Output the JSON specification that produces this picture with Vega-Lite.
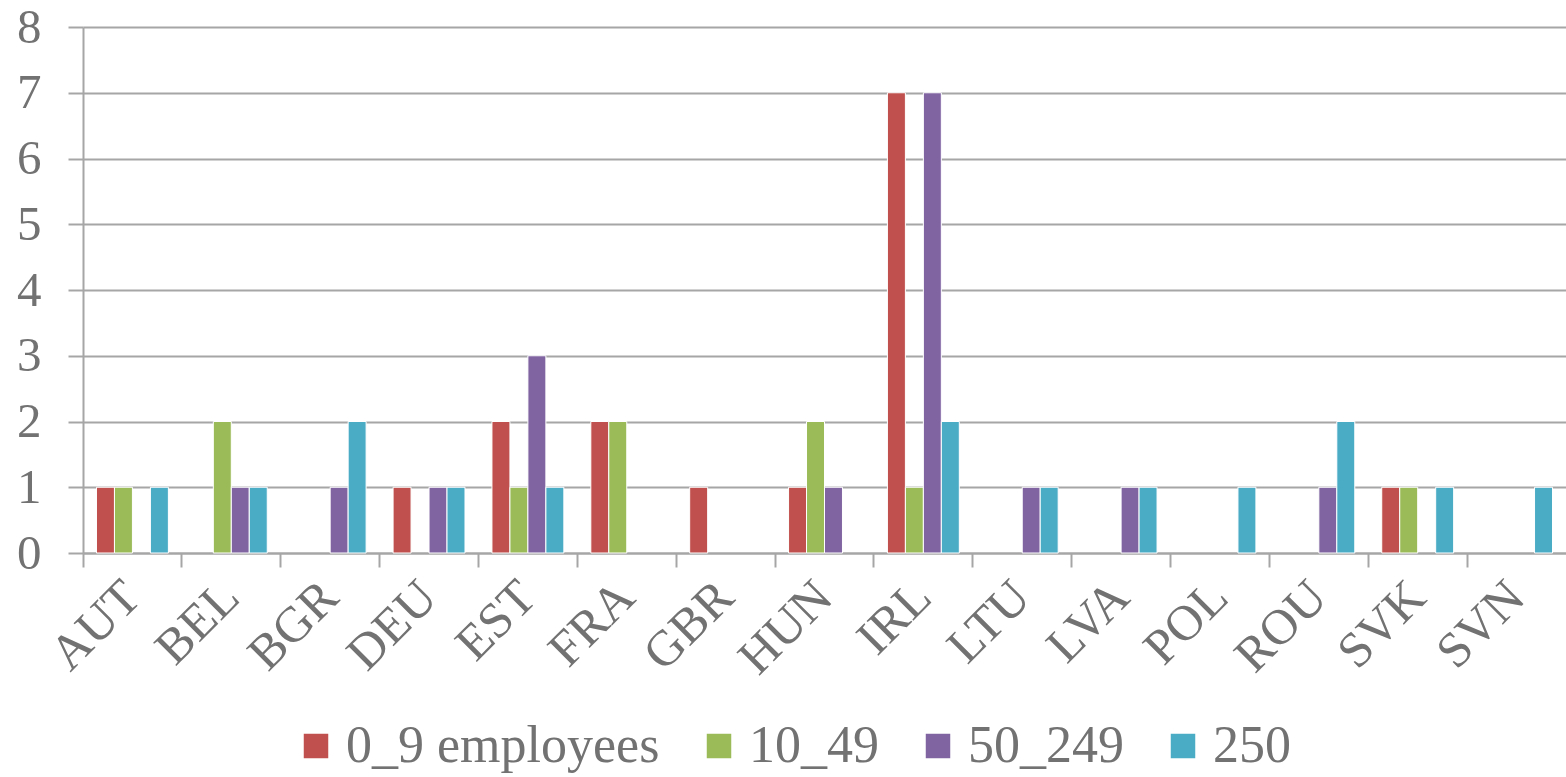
{
  "$schema": "https://vega.github.io/schema/vega-lite/v6.json",
  "width": 1483,
  "height": 526,
  "autosize": "none",
  "padding": {"left": 83, "top": 27, "right": 0, "bottom": 224},
  "background": "white",
  "data": {
    "values": [
      {"country": "AUT", "size": "0_9 employees", "value": 1},
      {"country": "AUT", "size": "10_49", "value": 1},
      {"country": "AUT", "size": "250", "value": 1},
      {"country": "BEL", "size": "10_49", "value": 2},
      {"country": "BEL", "size": "50_249", "value": 1},
      {"country": "BEL", "size": "250", "value": 1},
      {"country": "BGR", "size": "50_249", "value": 1},
      {"country": "BGR", "size": "250", "value": 2},
      {"country": "DEU", "size": "0_9 employees", "value": 1},
      {"country": "DEU", "size": "50_249", "value": 1},
      {"country": "DEU", "size": "250", "value": 1},
      {"country": "EST", "size": "0_9 employees", "value": 2},
      {"country": "EST", "size": "10_49", "value": 1},
      {"country": "EST", "size": "50_249", "value": 3},
      {"country": "EST", "size": "250", "value": 1},
      {"country": "FRA", "size": "0_9 employees", "value": 2},
      {"country": "FRA", "size": "10_49", "value": 2},
      {"country": "GBR", "size": "0_9 employees", "value": 1},
      {"country": "HUN", "size": "0_9 employees", "value": 1},
      {"country": "HUN", "size": "10_49", "value": 2},
      {"country": "HUN", "size": "50_249", "value": 1},
      {"country": "IRL", "size": "0_9 employees", "value": 7},
      {"country": "IRL", "size": "10_49", "value": 1},
      {"country": "IRL", "size": "50_249", "value": 7},
      {"country": "IRL", "size": "250", "value": 2},
      {"country": "LTU", "size": "50_249", "value": 1},
      {"country": "LTU", "size": "250", "value": 1},
      {"country": "LVA", "size": "50_249", "value": 1},
      {"country": "LVA", "size": "250", "value": 1},
      {"country": "POL", "size": "250", "value": 1},
      {"country": "ROU", "size": "50_249", "value": 1},
      {"country": "ROU", "size": "250", "value": 2},
      {"country": "SVK", "size": "0_9 employees", "value": 1},
      {"country": "SVK", "size": "10_49", "value": 1},
      {"country": "SVK", "size": "250", "value": 1},
      {"country": "SVN", "size": "250", "value": 1}
    ]
  },
  "mark": {"type": "bar", "stroke": "white", "strokeWidth": 1},
  "encoding": {
    "x": {
      "field": "country",
      "type": "nominal",
      "sort": ["AUT", "BEL", "BGR", "DEU", "EST", "FRA", "GBR", "HUN", "IRL", "LTU", "LVA", "POL", "ROU", "SVK", "SVN"],
      "scale": {"paddingInner": 0, "paddingOuter": 0},
      "axis": {
        "title": null,
        "bandPosition": 0,
        "labelAngle": -45,
        "labelAlign": "right",
        "labelBaseline": "middle",
        "labelFont": "Liberation Serif",
        "labelFontSize": 50,
        "labelColor": "#727272",
        "labelPadding": 22,
        "labelLimit": 0,
        "labelOverlap": false,
        "tickSize": 14,
        "tickColor": "#A6A6A6",
        "tickWidth": 2,
        "domainColor": "#A6A6A6",
        "domainWidth": 2,
        "grid": false
      }
    },
    "xOffset": {
      "field": "size",
      "type": "nominal",
      "sort": ["0_9 employees", "10_49", "50_249", "250"],
      "scale": {"paddingInner": 0, "paddingOuter": 0.75}
    },
    "y": {
      "field": "value",
      "type": "quantitative",
      "scale": {"domain": [0, 8], "nice": false},
      "axis": {
        "title": null,
        "values": [0, 1, 2, 3, 4, 5, 6, 7, 8],
        "labelFont": "Liberation Serif",
        "labelFontSize": 49,
        "labelColor": "#727272",
        "labelPadding": 27,
        "tickSize": 15,
        "tickColor": "#A6A6A6",
        "tickWidth": 2,
        "domainColor": "#A6A6A6",
        "domainWidth": 2,
        "gridColor": "#A6A6A6",
        "gridWidth": 2,
        "grid": true
      }
    },
    "color": {
      "field": "size",
      "type": "nominal",
      "scale": {
        "domain": ["0_9 employees", "10_49", "50_249", "250"],
        "range": ["#C0504D", "#9BBB59", "#8064A2", "#4BACC6"]
      },
      "legend": {
        "title": null,
        "orient": "none",
        "legendX": 207,
        "legendY": 693,
        "padding": 0,
        "direction": "horizontal",
        "symbolType": "square",
        "symbolSize": 600,
        "symbolStrokeWidth": 0,
        "labelFont": "Liberation Serif",
        "labelFontSize": 52,
        "labelColor": "#727272",
        "labelOffset": 4,
        "labelLimit": 0,
        "columnPadding": 33
      }
    }
  },
  "config": {"view": {"stroke": null}}
}
